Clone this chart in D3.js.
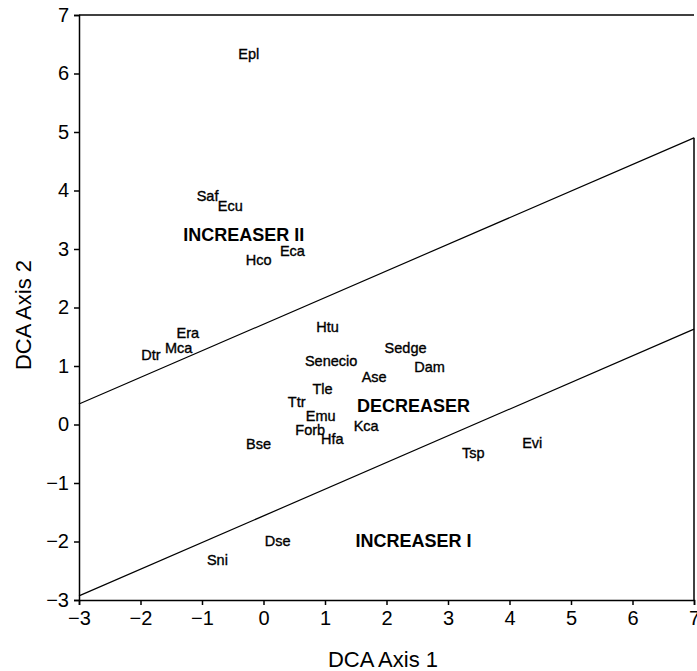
<!DOCTYPE html>
<html>
<head>
<meta charset="utf-8">
<script src="https://cdn.jsdelivr.net/npm/d3@7"></script>
<style>
body { margin: 0; background: #fff; }
svg { display: block; }
</style>
</head>
<body>
<svg id="chart" width="697" height="671"></svg>
<script>
// Species positions (DCA axis 1, DCA axis 2) — label centers
const species = ["Epl","Saf","Ecu","Eca","Hco","Era","Mca","Dtr","Htu","Senecio","Sedge","Dam","Ase","Tle","Ttr","Emu","Forb","Hfa","Kca","Bse","Tsp","Evi","Dse","Sni"];
const axis1 = [-0.24,-0.91,-0.54,0.47,-0.08,-1.23,-1.38,-1.83,1.04,1.10,2.31,2.70,1.80,0.96,0.54,0.93,0.76,1.12,1.67,-0.08,3.41,4.37,0.23,-0.75];
const axis2 = [6.34,3.90,3.73,2.96,2.81,1.56,1.30,1.18,1.66,1.08,1.30,0.98,0.82,0.60,0.39,0.14,-0.09,-0.24,-0.02,-0.34,-0.48,-0.31,-1.99,-2.31];

// Group region labels
const groups = ["INCREASER II","DECREASER","INCREASER I"];
const groupX = [-0.32,2.44,2.44];
const groupY = [3.24,0.31,-1.99];

// Boundary lines (x1,y1)-(x2,y2)
const lineX = [-3, 7];
const upperLineY = [0.35, 4.90];
const lowerLineY = [-2.93, 1.63];

// Ticks
const xTicks = [-3,-2,-1,0,1,2,3,4,5,6,7];
const yTicks = [-3,-2,-1,0,1,2,3,4,5,6,7];

const svg = d3.select("#chart");
const L = 79, R = 694, T = 15, B = 600;
const x = d3.scaleLinear().domain([-3,7]).range([L,R]);
const y = d3.scaleLinear().domain([-3,7]).range([B,T]);
const font = "'Liberation Sans', Arial, Helvetica, sans-serif";

// frame
svg.append("line").attr("x1",L).attr("x2",R).attr("y1",T).attr("y2",T).attr("stroke","#000").attr("stroke-width",1.5);
svg.append("line").attr("x1",R).attr("x2",R).attr("y1",y(upperLineY[1])).attr("y2",B).attr("stroke","#000").attr("stroke-width",1.5);

// axes
const fmt = d3.format("");
const gx = svg.append("g").attr("transform",`translate(0,${B})`)
  .call(d3.axisBottom(x).tickValues(xTicks).tickSize(5).tickPadding(6).tickFormat(fmt));
const gy = svg.append("g").attr("transform",`translate(${L},0)`)
  .call(d3.axisLeft(y).tickValues(yTicks).tickSize(5).tickPadding(5).tickFormat(fmt));
[gx, gy].forEach(g => {
  g.select(".domain").attr("stroke","#000").attr("stroke-width",1.5);
  g.selectAll(".tick line").attr("stroke","#000").attr("stroke-width",1.5);
  g.selectAll(".tick text").attr("fill","#000").style("font-family",font).style("font-size","20px");
});

// boundary lines
const lineGen = d3.line().x(d => x(d[0])).y(d => y(d[1]));
[upperLineY, lowerLineY].forEach(ly => {
  svg.append("path").datum(lineX.map((v,i) => [v, ly[i]]))
    .attr("d", lineGen).attr("fill","none").attr("stroke","#000").attr("stroke-width",1.2);
});

// species labels
svg.append("g").selectAll("text").data(species).join("text")
  .attr("x",(d,i) => x(axis1[i]))
  .attr("y",(d,i) => y(axis2[i]))
  .attr("text-anchor","middle")
  .attr("dominant-baseline","central")
  .style("font-family",font).style("font-size","14.5px")
  .attr("fill","#000").attr("stroke","#000").attr("stroke-width",0.35)
  .text(d => d);

// group labels
svg.append("g").selectAll("text").data(groups).join("text")
  .attr("x",(d,i) => x(groupX[i]))
  .attr("y",(d,i) => y(groupY[i]))
  .attr("text-anchor","middle")
  .attr("dominant-baseline","central")
  .style("font-family",font).style("font-size","18px").style("font-weight","bold")
  .attr("fill","#000")
  .text(d => d);

// axis titles
svg.append("text").attr("x",383).attr("y",667).attr("text-anchor","middle")
  .style("font-family",font).style("font-size","22px").attr("fill","#000").text("DCA Axis 1");
svg.append("text").attr("transform","translate(31,315) rotate(-90)").attr("text-anchor","middle")
  .style("font-family",font).style("font-size","22px").attr("fill","#000").text("DCA Axis 2");
</script>
</body>
</html>
